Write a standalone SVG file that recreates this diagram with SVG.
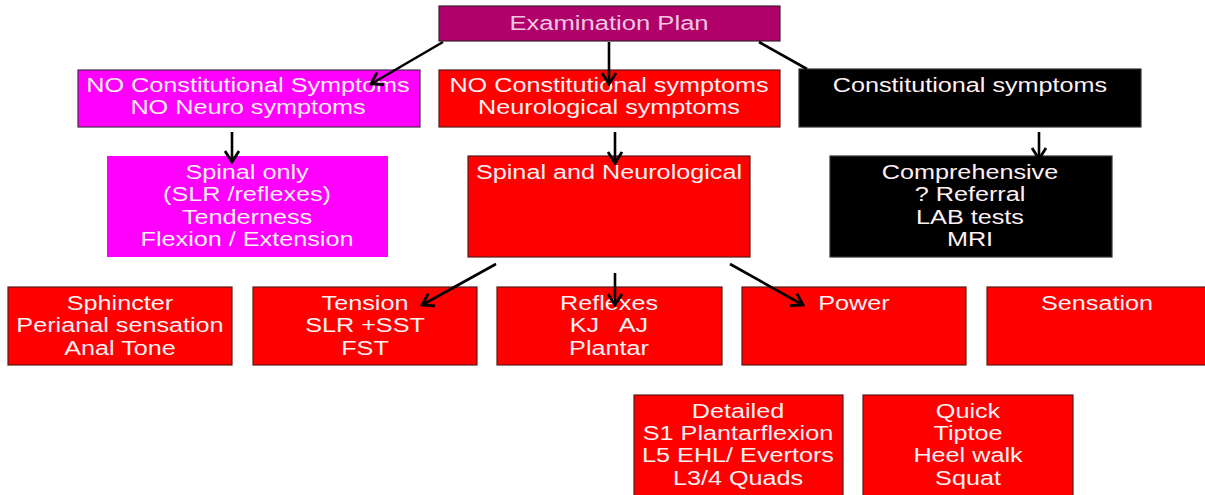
<svg xmlns="http://www.w3.org/2000/svg" width="1205" height="495" viewBox="0 0 1205 495">
<style>
  .t { font-family: "Liberation Sans", Arial, sans-serif; font-size: 21px; text-anchor: middle; fill: #FFF0F4; }
  .tp { fill: #F2C6E2; }
  .red { fill: #FF0000; stroke: #5a1a1a; stroke-width: 1.2; }
  .mag { fill: #FF00FF; stroke: #4a2a4a; stroke-width: 1.2; }
  .mag2 { fill: #FF00FF; stroke: none; }
  .blk { fill: #000000; stroke: #333; stroke-width: 1.2; }
  .pur { fill: #B0006A; stroke: #3a2030; stroke-width: 1.2; }
  .c { stroke: #000; stroke-width: 2.6; fill: none; }
</style>
<defs>
  <marker id="ah" viewBox="-14 -9 16 18" markerWidth="16" markerHeight="18" refX="0" refY="0" orient="auto" markerUnits="userSpaceOnUse">
    <path d="M-11,-7 L0,0 L-11,7" fill="none" stroke="#000" stroke-width="2.8"/>
  </marker>
</defs>
<rect width="1205" height="495" fill="#FFFFFF"/>

<g id="exam">
  <rect class="pur" x="439" y="6" width="341" height="35"/>
  <text class="t tp" transform="translate(609,0) scale(1.22,1)" x="0" y="30">Examination Plan</text>
</g>

<g id="noconst-noneuro">
  <rect class="mag" x="78" y="70" width="342" height="57"/>
  <text class="t" transform="translate(248,0) scale(1.2,1)"><tspan x="0" y="92">NO Constitutional Symptoms</tspan><tspan x="0" y="114">NO Neuro symptoms</tspan></text>
</g>

<g id="noconst-neuro">
  <rect class="red" x="439" y="70" width="341" height="57"/>
  <text class="t" transform="translate(609,0) scale(1.2,1)"><tspan x="0" y="92">NO Constitutional symptoms</tspan><tspan x="0" y="114">Neurological symptoms</tspan></text>
</g>

<g id="const">
  <rect class="blk" x="799" y="69" width="342" height="58"/>
  <text class="t" transform="translate(970,0) scale(1.2,1)" x="0" y="92">Constitutional symptoms</text>
</g>

<g id="spinal-only">
  <rect class="mag2" x="107" y="156" width="281" height="101"/>
  <text class="t" transform="translate(247,0) scale(1.2,1)"><tspan x="0" y="179">Spinal only</tspan><tspan x="0" y="201">(SLR /reflexes)</tspan><tspan x="0" y="224">Tenderness</tspan><tspan x="0" y="246">Flexion / Extension</tspan></text>
</g>

<g id="spinal-neuro">
  <rect class="red" x="468" y="156" width="282" height="101"/>
  <text class="t" transform="translate(609,0) scale(1.2,1)" x="0" y="179">Spinal and Neurological</text>
</g>

<g id="comprehensive">
  <rect class="blk" x="830" y="156" width="282" height="101"/>
  <text class="t" transform="translate(970,0) scale(1.2,1)"><tspan x="0" y="179">Comprehensive</tspan><tspan x="0" y="201">? Referral</tspan><tspan x="0" y="224">LAB tests</tspan><tspan x="0" y="246">MRI</tspan></text>
</g>

<g id="sphincter">
  <rect class="red" x="8" y="287" width="224" height="78"/>
  <text class="t" transform="translate(120,0) scale(1.2,1)"><tspan x="0" y="310">Sphincter</tspan><tspan x="0" y="332">Perianal sensation</tspan><tspan x="0" y="355">Anal Tone</tspan></text>
</g>

<g id="tension">
  <rect class="red" x="253" y="287" width="224" height="78"/>
  <text class="t" transform="translate(365,0) scale(1.2,1)"><tspan x="0" y="310">Tension</tspan><tspan x="0" y="332">SLR +SST</tspan><tspan x="0" y="355">FST</tspan></text>
</g>

<g id="reflexes">
  <rect class="red" x="497" y="287" width="225" height="78"/>
  <text class="t" transform="translate(609,0) scale(1.2,1)"><tspan x="0" y="310">Reflexes</tspan><tspan x="0" y="332" xml:space="preserve">KJ   AJ</tspan><tspan x="0" y="355">Plantar</tspan></text>
</g>

<g id="power">
  <rect class="red" x="742" y="287" width="224" height="78"/>
  <text class="t" transform="translate(854,0) scale(1.2,1)" x="0" y="310">Power</text>
</g>

<g id="sensation">
  <rect class="red" x="987" y="287" width="220" height="78"/>
  <text class="t" transform="translate(1097,0) scale(1.2,1)" x="0" y="310">Sensation</text>
</g>

<g id="detailed">
  <rect class="red" x="634" y="395" width="209" height="104"/>
  <text class="t" transform="translate(738,0) scale(1.2,1)"><tspan x="0" y="418">Detailed</tspan><tspan x="0" y="440">S1 Plantarflexion</tspan><tspan x="0" y="462">L5 EHL/ Evertors</tspan><tspan x="0" y="485">L3/4 Quads</tspan></text>
</g>

<g id="quick">
  <rect class="red" x="863" y="395" width="210" height="104"/>
  <text class="t" transform="translate(968,0) scale(1.2,1)"><tspan x="0" y="418">Quick</tspan><tspan x="0" y="440">Tiptoe</tspan><tspan x="0" y="462">Heel walk</tspan><tspan x="0" y="485">Squat</tspan></text>
</g>

<g id="connectors">
  <line class="c" x1="443" y1="42" x2="371" y2="84" marker-end="url(#ah)"/>
  <line class="c" x1="609" y1="42" x2="609" y2="84" marker-end="url(#ah)"/>
  <line class="c" x1="759" y1="42" x2="807" y2="69"/>
  <line class="c" x1="232" y1="132" x2="232" y2="162" marker-end="url(#ah)"/>
  <line class="c" x1="615" y1="132" x2="615" y2="163" marker-end="url(#ah)"/>
  <line class="c" x1="1039" y1="132" x2="1039" y2="159" marker-end="url(#ah)"/>
  <line class="c" x1="496" y1="264" x2="422" y2="305" marker-end="url(#ah)"/>
  <line class="c" x1="615" y1="273" x2="615" y2="305" marker-end="url(#ah)"/>
  <line class="c" x1="730" y1="264" x2="803" y2="305" marker-end="url(#ah)"/>
</g>
</svg>
